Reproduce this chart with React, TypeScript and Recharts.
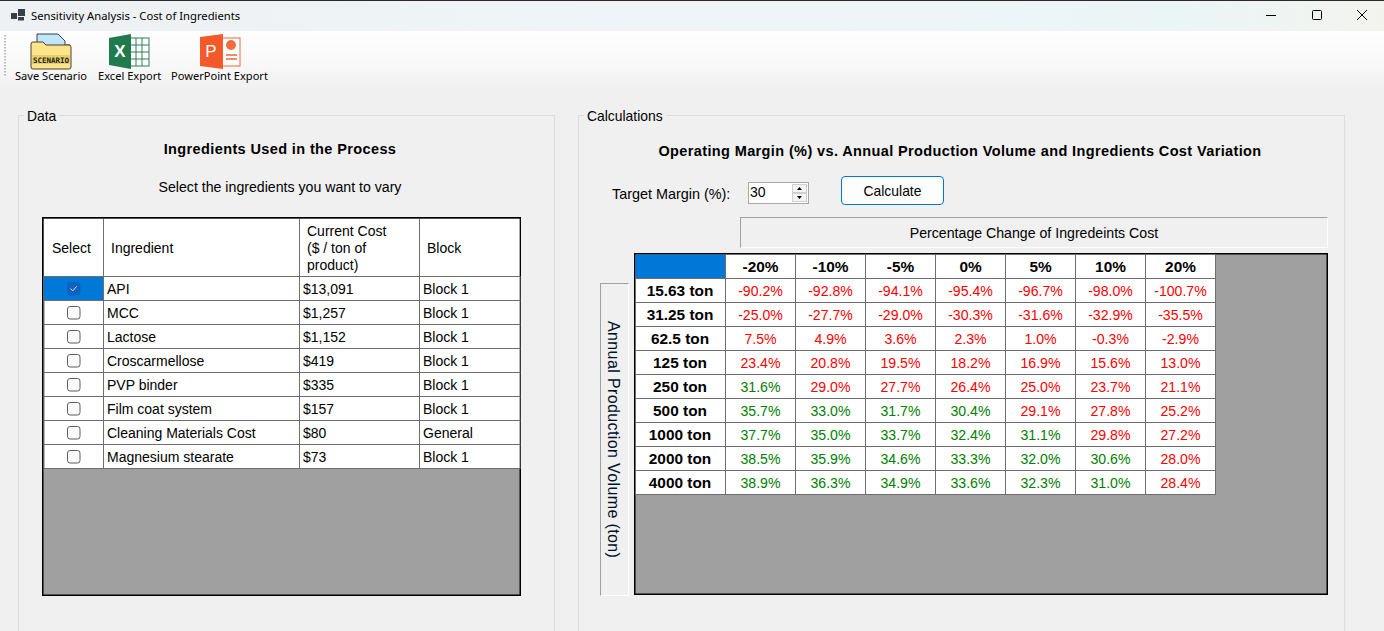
import { Scatter, ScatterChart, XAxis, YAxis } from "recharts";

const costChanges = ["-20%", "-10%", "-5%", "0%", "5%", "10%", "20%"];
const volumes = ["15.63 ton", "31.25 ton", "62.5 ton", "125 ton", "250 ton", "500 ton", "1000 ton", "2000 ton", "4000 ton"];
const margins15 = [-90.2, -92.8, -94.1, -95.4, -96.7, -98.0, -100.7];
const margins31 = [-25.0, -27.7, -29.0, -30.3, -31.6, -32.9, -35.5];
const margins62 = [7.5, 4.9, 3.6, 2.3, 1.0, -0.3, -2.9];
const margins125 = [23.4, 20.8, 19.5, 18.2, 16.9, 15.6, 13.0];
const margins250 = [31.6, 29.0, 27.7, 26.4, 25.0, 23.7, 21.1];
const margins500 = [35.7, 33.0, 31.7, 30.4, 29.1, 27.8, 25.2];
const margins1000 = [37.7, 35.0, 33.7, 32.4, 31.1, 29.8, 27.2];
const margins2000 = [38.5, 35.9, 34.6, 33.3, 32.0, 30.6, 28.0];
const margins4000 = [38.9, 36.3, 34.9, 33.6, 32.3, 31.0, 28.4];
const marginRows = [margins15, margins31, margins62, margins125, margins250, margins500, margins1000, margins2000, margins4000];
const targetMargin = 30;

const ingredients = ["API", "MCC", "Lactose", "Croscarmellose", "PVP binder", "Film coat system", "Cleaning Materials Cost", "Magnesium stearate"];
const ingredientCosts = ["$13,091", "$1,257", "$1,152", "$419", "$335", "$157", "$80", "$73"];
const ingredientBlocks = ["Block 1", "Block 1", "Block 1", "Block 1", "Block 1", "Block 1", "General", "Block 1"];
const selectedIngredients = ["API"];

const GRID_FONT = "'Liberation Sans', Arial, sans-serif";
const UI_FONT = "'Noto Sans', 'Open Sans', sans-serif";
const LINE = "#6e6e6e";
const CELL_W = 70;
const ROW_H = 24;

const marginCells = volumes.flatMap((volume, r) =>
  costChanges.map((change, c) => ({ change, volume, margin: marginRows[r][c] })),
);
const ingredientRows = ingredients.map((name, i) => ({
  slot: 0,
  name,
  cost: ingredientCosts[i],
  block: ingredientBlocks[i],
  selected: selectedIngredients.includes(name),
}));

function MarginCell(props: any) {
  const { cx, cy, payload } = props;
  const good = payload.margin >= targetMargin;
  return (
    <g>
      <rect x={cx - CELL_W / 2 + 0.5} y={cy - ROW_H / 2 + 0.5} width={CELL_W} height={ROW_H} fill="#fff" stroke={LINE} strokeWidth={1} />
      <text x={cx + 0.5} y={cy + 6} textAnchor="middle" fontFamily={GRID_FONT} fontSize={14.1} fill={good ? "#008000" : "#ff0000"}>
        {payload.margin.toFixed(1)}%
      </text>
    </g>
  );
}

function ChangeTick(props: any) {
  const { x, y, payload } = props;
  return (
    <g>
      <rect x={x - CELL_W / 2 + 0.5} y={y - ROW_H + 0.5} width={CELL_W} height={ROW_H} fill="#fff" stroke={LINE} strokeWidth={1} />
      <text x={x + 0.5} y={y - 6} textAnchor="middle" fontFamily={GRID_FONT} fontSize={15.4} fontWeight={700} fill="#000">
        {payload.value}
      </text>
    </g>
  );
}

function VolumeTick(props: any) {
  const { x, y, payload } = props;
  return (
    <g>
      <rect x={x - 90 + 0.5} y={y - ROW_H / 2 + 0.5} width={90} height={ROW_H} fill="#fff" stroke={LINE} strokeWidth={1} />
      <text x={x - 45} y={y + 6} textAnchor="middle" fontFamily={GRID_FONT} fontSize={15.4} fontWeight={700} fill="#000">
        {payload.value}
      </text>
    </g>
  );
}

function Checkbox({ x, y, checked }: { x: number; y: number; checked: boolean }) {
  return (
    <g>
      <rect
        x={x - 6}
        y={y - 6}
        width={12.5}
        height={12.5}
        rx={2.5}
        fill={checked ? "#0f62bd" : "#fafafa"}
        stroke={checked ? "#0f62bd" : "#5f5f5f"}
        strokeWidth={1}
      />
      {checked && <path d={`M${x - 3} ${y} l2.2 2.4 l4 -4.6`} fill="none" stroke="#cfe3f7" strokeWidth={1} />}
    </g>
  );
}

function IngredientRow(props: any) {
  const { cx, cy, payload } = props;
  const top = cy - ROW_H / 2 + 0.5;
  const left = cx;
  const textY = cy + 6;
  const textProps = { fontFamily: GRID_FONT, fontSize: 14, fill: "#000" };
  return (
    <g>
      <rect x={left} y={top} width={476} height={ROW_H} fill="#fff" stroke={LINE} strokeWidth={1} />
      {payload.selected && <rect x={left} y={top + 0.5} width={59} height={ROW_H - 1} fill="#0078d7" />}
      <line x1={left + 59.5} x2={left + 59.5} y1={top} y2={top + ROW_H} stroke={LINE} strokeWidth={1} />
      <line x1={left + 255.5} x2={left + 255.5} y1={top} y2={top + ROW_H} stroke={LINE} strokeWidth={1} />
      <line x1={left + 375.5} x2={left + 375.5} y1={top} y2={top + ROW_H} stroke={LINE} strokeWidth={1} />
      <Checkbox x={left + 29.5} y={cy + 0.5} checked={payload.selected} />
      <text x={left + 63} y={textY} {...textProps}>{payload.name}</text>
      <text x={left + 259} y={textY} {...textProps}>{payload.cost}</text>
      <text x={left + 379} y={textY} {...textProps}>{payload.block}</text>
    </g>
  );
}

function MarginGrid() {
  return (
    <div style={{ position: "absolute", left: 634, top: 253, width: 694, height: 342, background: "#a0a0a0", boxShadow: "inset 0 0 0 1.5px #000" }}>
      <ScatterChart width={694} height={342} margin={{ top: 0, right: 113, bottom: 101, left: 0 }}>
        <XAxis
          xAxisId={0}
          type="category"
          dataKey="change"
          orientation="top"
          scale="band"
          allowDuplicatedCategory={false}
          height={25}
          interval={0}
          tickLine={false}
          axisLine={false}
          tickSize={0}
          tickMargin={0}
          tick={ChangeTick}
        />
        <YAxis
          yAxisId={0}
          type="category"
          dataKey="volume"
          scale="band"
          reversed
          allowDuplicatedCategory={false}
          width={91}
          interval={0}
          tickLine={false}
          axisLine={false}
          tickSize={0}
          tickMargin={0}
          tick={VolumeTick}
        />
        <Scatter data={marginCells} isAnimationActive={false} shape={MarginCell} />
        <rect x={1.5} y={1.5} width={90} height={24} fill="#0078d7" />
      </ScatterChart>
    </div>
  );
}

function IngredientGrid() {
  const head = { fontFamily: GRID_FONT, fontSize: 14, fill: "#000" };
  return (
    <div style={{ position: "absolute", left: 42, top: 217, width: 479, height: 379, background: "#a0a0a0", boxShadow: "inset 0 0 0 1.5px #000" }}>
      <ScatterChart width={479} height={379} margin={{ top: 59, right: 1, bottom: 128, left: 2 }}>
        <XAxis xAxisId={0} type="number" dataKey="slot" domain={[0, 1]} hide />
        <YAxis yAxisId={0} type="category" dataKey="name" scale="band" reversed allowDuplicatedCategory={false} width={0} hide />
        <rect x={2} y={2} width={475.5} height={57} fill="#fff" />
        <line x1={61.5} x2={61.5} y1={2} y2={59} stroke={LINE} strokeWidth={1} />
        <line x1={257.5} x2={257.5} y1={2} y2={59} stroke={LINE} strokeWidth={1} />
        <line x1={377.5} x2={377.5} y1={2} y2={59} stroke={LINE} strokeWidth={1} />
        <text x={10} y={36} {...head}>Select</text>
        <text x={69} y={36} {...head}>Ingredient</text>
        <text x={265} y={19} {...head}>Current Cost</text>
        <text x={265} y={36} {...head}>($ / ton of</text>
        <text x={265} y={53} {...head}>product)</text>
        <text x={385} y={36} {...head}>Block</text>
        <Scatter data={ingredientRows} isAnimationActive={false} shape={IngredientRow} />
      </ScatterChart>
    </div>
  );
}

function Label({ x, y, children, size = 14.15, weight = 400, font = GRID_FONT, center = false, spacing = 0 }: any) {
  return (
    <div
      style={{
        position: "absolute",
        left: x,
        top: y,
        fontFamily: font,
        fontSize: size,
        fontWeight: weight,
        letterSpacing: spacing,
        lineHeight: "18px",
        color: "#000",
        whiteSpace: "nowrap",
        transform: center ? "translateX(-50%)" : undefined,
      }}
    >
      {children}
    </div>
  );
}

function TitleBar() {
  return (
    <div style={{ position: "absolute", left: 0, top: 0, width: 1384, height: 31, background: "linear-gradient(90deg,#eef1f4 0%,#eef5f8 60%,#eaf5f6 85%,#f3f3ee 100%)", borderTop: "1px solid #2a2a2a", boxSizing: "border-box" }}>
      <svg width={20} height={20} style={{ position: "absolute", left: 10, top: 8 }}>
        <rect x={1} y={4} width={6} height={6} fill="#3a3f45" />
        <rect x={8} y={0} width={7} height={7} fill="#3a3f45" />
        <rect x={8} y={8} width={6} height={3.5} fill="#3a3f45" />
      </svg>
      <Label x={31} y={6} size={11.25} font={UI_FONT}>Sensitivity Analysis - Cost of Ingredients</Label>
      <svg width={130} height={31} style={{ position: "absolute", left: 1254, top: -1 }}>
        <line x1={12} x2={22} y1={15.5} y2={15.5} stroke="#000" />
        <rect x={58.5} y={10.5} width={9} height={9} rx={1} fill="none" stroke="#000" />
        <path d="M103 10 L113 20 M113 10 L103 20" stroke="#000" fill="none" />
      </svg>
    </div>
  );
}

function Toolbar() {
  return (
    <div style={{ position: "absolute", left: 0, top: 31, width: 1384, height: 60, background: "linear-gradient(180deg,#fefefe 0%,#f9f9f9 50%,#f0f0f0 100%)" }}>
      <svg width={300} height={45} style={{ position: "absolute", left: 0, top: 0 }}>
        <line x1={5} x2={5} y1={4} y2={50} stroke="#a8a8a8" strokeWidth={1.5} strokeDasharray="1.5 1.5" />
        {/* save scenario folder */}
        <path d="M37 3 h21 l7 7 v12 h-28 z" fill="#bfe6fb" stroke="#33424d" />
        <rect x={65} y={13} width={5} height={5} fill="#e07a6a" />
        <path d="M33 11 h10 l3 3 h23 a2 2 0 0 1 2 2 v20 a2 2 0 0 1 -2 2 h-36 a2 2 0 0 1 -2 -2 v-23 a2 2 0 0 1 2 -2 z" fill="#fce48a" stroke="#4a4030" />
        <rect x={32} y={24} width={38} height={9} fill="#e8cf6c" />
        <text x={51} y={31.5} textAnchor="middle" fontFamily="'DejaVu Sans Mono', monospace" fontWeight={700} fontSize={7.5} fill="#222">SCENARIO</text>
        {/* excel */}
        <rect x={128} y={7} width={21} height={28} fill="#fff" stroke="#2f7d55" />
        <path d="M128 14 h21 M128 21 h21 M128 28 h21 M136 7 v28 M142 7 v28" stroke="#2f7d55" />
        <path d="M109 7 l22 -4 v35 l-22 -4 z" fill="#217a4e" />
        <text x={120} y={26} textAnchor="middle" fontFamily={GRID_FONT} fontWeight={700} fontSize={17} fill="#fff">X</text>
        {/* powerpoint */}
        <rect x={222} y={7} width={18} height={28} fill="#fff" stroke="#f0643a" />
        <circle cx={231} cy={14} r={5} fill="#f26b3d" />
        <path d="M226 24 h11 M226 28 h11" stroke="#f0643a" strokeWidth={1.5} />
        <path d="M200 6 l23 -3 v35 l-23 -3 z" fill="#f4592a" />
        <text x={211} y={26} textAnchor="middle" fontFamily={GRID_FONT} fontSize={17} fill="#fff">P</text>
      </svg>
      <Label x={15} y={36} size={11.1} font={UI_FONT}>Save Scenario</Label>
      <Label x={98} y={36} size={11.1} font={UI_FONT}>Excel Export</Label>
      <Label x={171} y={36} size={11.1} font={UI_FONT}>PowerPoint Export</Label>
    </div>
  );
}

function GroupBox({ x, w, title }: { x: number; w: number; title: string }) {
  return (
    <>
      <div style={{ position: "absolute", left: x, top: 115, width: w, height: 530, border: "1px solid #dcdcdc", boxSizing: "border-box" }} />
      <div style={{ position: "absolute", left: x + 6, top: 107, padding: "0 3px", background: "#f0f0f0", fontFamily: GRID_FONT, fontSize: 13.9, lineHeight: "18px" }}>{title}</div>
    </>
  );
}

export default function App() {
  return (
    <div style={{ position: "absolute", left: 0, top: 0, width: 1384, height: 631, overflow: "hidden", background: "#f0f0f0" }}>
      <TitleBar />
      <Toolbar />
      <GroupBox x={18} w={537} title="Data" />
      <GroupBox x={578} w={767} title="Calculations" />

      <Label x={280} y={140} weight={700} size={14.5} spacing={0.38} center>Ingredients Used in the Process</Label>
      <Label x={280} y={178} center>Select the ingredients you want to vary</Label>
      <IngredientGrid />

      <Label x={960} y={142} weight={700} size={14.5} spacing={0.38} center>Operating Margin (%) vs. Annual Production Volume and Ingredients Cost Variation</Label>
      <Label x={612} y={185} size={14.4}>Target Margin (%):</Label>

      <div style={{ position: "absolute", left: 748, top: 182, width: 61, height: 22, background: "#fff", border: "1px solid #a8a8a8", boxSizing: "border-box" }}>
        <div style={{ position: "absolute", left: 1, top: 0, fontFamily: GRID_FONT, fontSize: 14, lineHeight: "18px" }}>30</div>
        <svg width={16} height={20} style={{ position: "absolute", left: 43, top: 0 }}>
          <rect x={0.5} y={1.5} width={14} height={8} fill="#f4f4f4" stroke="#d0d0d0" />
          <rect x={0.5} y={10.5} width={14} height={8} fill="#f4f4f4" stroke="#d0d0d0" />
          <path d="M5 7 h5 l-2.5 -3 z M5 13 h5 l-2.5 3 z" fill="#000" />
        </svg>
      </div>

      <div style={{ position: "absolute", left: 841, top: 176, width: 103, height: 29, background: "#fdfdfd", border: "1.5px solid #0078d4", borderRadius: 4, boxSizing: "border-box", textAlign: "center", fontFamily: GRID_FONT, fontSize: 13.9, lineHeight: "28px" }}>
        Calculate
      </div>

      <div style={{ position: "absolute", left: 740, top: 217, width: 588, height: 31, boxSizing: "border-box", borderTop: "1px solid #a0a0a0", borderLeft: "1px solid #a0a0a0", borderRight: "1px solid #fff", borderBottom: "1px solid #fff", textAlign: "center", fontFamily: GRID_FONT, fontSize: 14.15, lineHeight: "31px" }}>
        Percentage Change of Ingredeints Cost
      </div>

      <div style={{ position: "absolute", left: 600, top: 283, width: 29, height: 313, boxSizing: "border-box", borderTop: "1px solid #a0a0a0", borderLeft: "1px solid #a0a0a0", borderRight: "1px solid #fff", borderBottom: "1px solid #fff" }}>
        <div style={{ position: "absolute", left: 3, top: 37, writingMode: "vertical-rl", fontFamily: GRID_FONT, fontSize: 16, letterSpacing: 0.38, lineHeight: "18px", color: "#00102a", whiteSpace: "nowrap" }}>
          Annual Production Volume (ton)
        </div>
      </div>

      <MarginGrid />
    </div>
  );
}
